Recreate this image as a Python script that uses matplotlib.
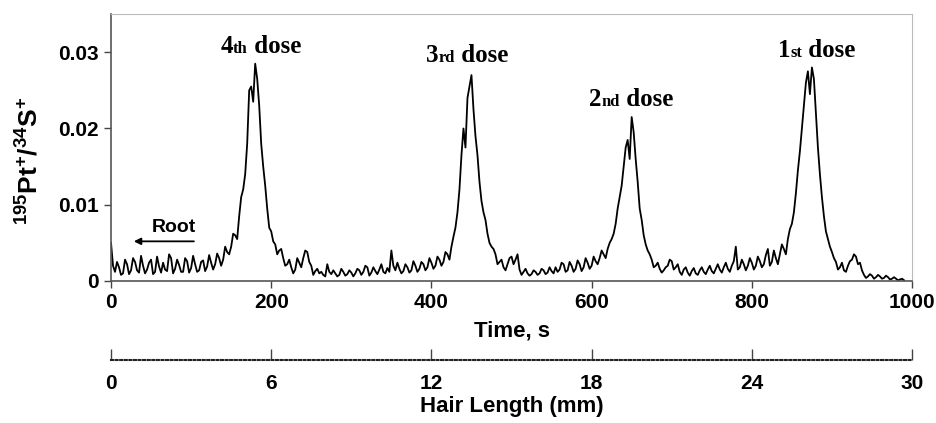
import matplotlib
matplotlib.use("Agg")
import matplotlib.pyplot as plt
import numpy as np
from matplotlib.offsetbox import TextArea, HPacker, AnnotationBbox

# signal, in units of 1e-4
# readings at t = 0, 5, 10, ... s
signal_e4 = [
    50, 12, 18, 10, 22, 14, 25, 11, 20, 15,   # 0-45
    28, 12, 19, 24, 13, 30, 16, 21, 12, 26,   # 50-95
    17, 22, 14, 27, 19, 24, 22, 30, 28, 38,   # 100-145
    45, 60, 85, 120, 180, 255, 285, 230, 150, 95,   # 150-195
    65, 48, 40, 30, 22, 18, 15, 24, 30, 38,   # 200-245
    20, 13, 10, 8, 22, 9, 10, 8, 12, 9,   # 250-295
    11, 10, 14, 12, 18, 11, 13, 15, 12, 17,   # 300-345
    40, 14, 16, 13, 18, 14, 20, 16, 22, 18,   # 350-395
    24, 20, 28, 25, 35, 45, 70, 120, 200, 240,   # 400-445
    270, 190, 130, 90, 62, 45, 35, 25, 18, 22,   # 450-495
    32, 28, 15, 12, 10, 9, 12, 10, 14, 11,   # 500-545
    13, 18, 15, 22, 14, 20, 16, 22, 18, 24,   # 550-595
    20, 26, 30, 35, 42, 55, 75, 110, 150, 185,   # 600-645
    215, 160, 95, 60, 40, 28, 20, 16, 14, 20,   # 650-695
    26, 18, 12, 15, 11, 13, 10, 14, 12, 15,   # 700-745
    13, 16, 15, 18, 16, 20, 45, 18, 22, 20,   # 750-795
    24, 20, 26, 22, 42, 25, 30, 35, 42, 55,   # 800-845
    75, 115, 170, 230, 275, 280, 220, 140, 85, 55,   # 850-895
    38, 25, 18, 14, 20, 28, 32, 24, 8, 6,   # 900-945
    7, 5, 6, 4, 5, 3, 3, 2, 1,   # 950-990
]
# readings at t = 2.5, 7.5, 12.5, ... s
signal_mid_e4 = [
    20, 25, 8, 28, 9, 30, 14, 33, 10, 24,   # 2.5-47.5
    9, 32, 11, 15, 35, 10, 28, 12, 30, 11,   # 52.5-97.5
    33, 12, 25, 13, 34, 15, 36, 20, 45, 35,   # 102.5-147.5
    62, 55, 110, 140, 250, 235, 265, 180, 125, 70,   # 152.5-197.5
    52, 35, 42, 20, 28, 10, 30, 18, 40, 25,   # 202.5-247.5
    8, 16, 12, 6, 12, 14, 6, 16, 7, 14,   # 252.5-297.5
    6, 16, 8, 20, 7, 18, 9, 22, 10, 12,   # 302.5-347.5
    20, 24, 10, 22, 11, 26, 12, 25, 14, 30,   # 352.5-397.5
    16, 32, 20, 38, 28, 58, 90, 165, 175, 255,   # 402.5-447.5
    225, 165, 105, 80, 50, 42, 22, 28, 14, 30,   # 452.5-497.5
    22, 35, 8, 16, 7, 14, 8, 16, 9, 18,   # 502.5-547.5
    10, 12, 24, 12, 25, 12, 27, 13, 30, 16,   # 552.5-597.5
    32, 22, 40, 30, 50, 62, 95, 125, 175, 160,   # 602.5-647.5
    195, 130, 80, 48, 35, 18, 24, 11, 18, 28,   # 652.5-697.5
    15, 22, 8, 18, 7, 17, 8, 18, 9, 20,   # 702.5-747.5
    10, 22, 11, 24, 12, 26, 15, 28, 14, 30,   # 752.5-797.5
    15, 32, 18, 34, 20, 40, 22, 48, 35, 68,   # 802.5-847.5
    90, 145, 200, 260, 245, 265, 175, 110, 65, 45,   # 852.5-897.5
    30, 15, 24, 12, 26, 35, 22, 14, 4, 9,   # 902.5-947.5
    3, 8, 3, 7, 2, 5, 1, 3,   # 952.5-987.5
]
time_step = 5
t_main = np.arange(len(signal_e4)) * time_step
t_mid = np.arange(len(signal_mid_e4)) * time_step + time_step / 2
time_s = np.concatenate([t_main, t_mid])
ratio = np.concatenate([signal_e4, signal_mid_e4]) * 1e-4
order = np.argsort(time_s)
time_s, ratio = time_s[order], ratio[order]

time_ticks = [0, 200, 400, 600, 800, 1000]
hair_ticks = [0, 6, 12, 18, 24, 30]

doses = [("4", "th", 187, 0.0293), ("3", "rd", 445, 0.0280),
         ("2", "nd", 649, 0.0223), ("1", "st", 881, 0.0287)]

plt.rcParams['font.family'] = ['Liberation Sans', 'DejaVu Sans']
plt.rcParams['mathtext.fontset'] = 'custom'
plt.rcParams['mathtext.bf'] = 'Liberation Sans:bold'
plt.rcParams['mathtext.rm'] = 'Liberation Sans'

fig = plt.figure(figsize=(9.36, 4.23), dpi=100)
ax = fig.add_axes([0.1186, 0.3357, 0.8558, 0.6310])

ax.plot(time_s, ratio, color='black', lw=1.3)
ax.set_xlim(0, 1000)
ax.set_ylim(0, 0.035)
ax.set_xticks(time_ticks)
ax.set_yticks([0, 0.01, 0.02, 0.03])
ax.set_yticklabels(['0', '0.01', '0.02', '0.03'])
ax.tick_params(direction='out', length=5, width=1, colors='#444', labelcolor='black', labelsize=15)
for lab in ax.get_xticklabels() + ax.get_yticklabels():
    lab.set_fontweight('bold')
for s in ['left', 'bottom']:
    ax.spines[s].set_color('#555')
    ax.spines[s].set_linewidth(1.2)
for s in ['top', 'right']:
    ax.spines[s].set_color('#bbb')
ax.set_xlabel('Time, s', fontsize=16, fontweight='bold', labelpad=6)

fig.text(0.032, 0.62, r'$\mathbf{^{195}Pt^{+}/^{34}S^{+}}$', rotation=90,
         ha='center', va='center', fontsize=19)

# dose labels
serif = ['Liberation Serif', 'DejaVu Serif']
for num, suf, tx, ty in doses:
    parts = [TextArea(num, textprops=dict(fontsize=18, fontweight='bold', family=serif)),
             TextArea(suf, textprops=dict(fontsize=12, fontweight='bold', family=serif)),
             TextArea(" dose", textprops=dict(fontsize=18, fontweight='bold', family=serif))]
    box = HPacker(children=parts, align='baseline', pad=0, sep=0)
    ab = AnnotationBbox(box, (tx, ty), xycoords='data', frameon=False,
                        box_alignment=(0.5, 0))
    ax.add_artist(ab)

ax.annotate('', xy=(25, 0.0052), xytext=(107, 0.0052),
            arrowprops=dict(arrowstyle='-|>', color='black', lw=1.3, mutation_scale=10))
ax.text(78, 0.0059, 'Root', fontsize=14, fontweight='bold', ha='center', va='bottom')

# hair length scale
ax2 = fig.add_axes([0.1186, 0.149, 0.8558, 0.001])
ax2.patch.set_visible(False)
for s in ['top', 'left', 'right']:
    ax2.spines[s].set_visible(False)
ax2.spines['bottom'].set_linestyle((0, (1, 1.2)))
ax2.spines['bottom'].set_linewidth(1.5)
ax2.spines['bottom'].set_color('#222')
ax2.set_yticks([])
ax2.set_xlim(0, 30)
ax2.set_xticks(hair_ticks)
ax2.tick_params(axis='x', direction='in', length=8, width=1, colors='#444',
                labelcolor='black', labelsize=15, pad=10)
for lab in ax2.get_xticklabels():
    lab.set_fontweight('bold')
ax2.set_xlabel('Hair Length (mm)', fontsize=16, fontweight='bold', labelpad=2)

fig.savefig('out.png', dpi=100)
